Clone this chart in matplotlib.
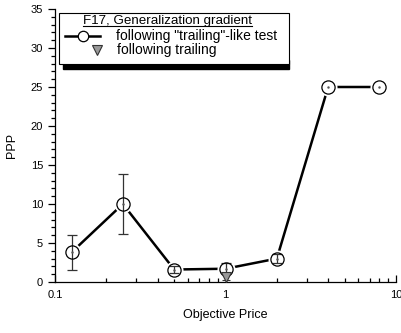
import numpy as np
import matplotlib
matplotlib.use('Agg')
import matplotlib.pyplot as plt
from matplotlib.lines import Line2D
from matplotlib.patches import Rectangle
from matplotlib.ticker import FixedLocator, NullFormatter

plt.rcParams['font.family'] = ['Liberation Sans', 'DejaVu Sans']

# data
price = [0.125, 0.25, 0.5, 1, 2, 4, 8]
ppp = [3.8, 10.0, 1.6, 1.7, 3.0, 25.0, 25.0]
ppp_err = [2.25, 3.8, 0.5, 0.7, 0.55, np.nan, np.nan]

trail_price = [1]
trail_ppp = [0.6]
trail_err = [0.3]

W, H = 401, 333
fig = plt.figure(figsize=(W / 100, H / 100), dpi=100)
ax = fig.add_axes([55 / W, 1 - 282 / H, (396 - 55) / W, (282 - 9) / H])

def px(x, y):
    # pixel position -> figure fraction
    return x / W, 1 - y / H

# line with gaps around the markers
ax.plot(price, ppp, color='black', lw=1.8, zorder=1)
ax.plot(price, ppp, ls='none', marker='o', ms=13, mfc='white', mec='none', zorder=2)
ax.errorbar(price, ppp, yerr=ppp_err, fmt='none', ecolor='#333333', elinewidth=0.9,
            capsize=3.5, capthick=0.9, zorder=3)
ax.plot(price, ppp, ls='none', marker='o', ms=9.5, mfc='none', mec='black', mew=0.9, zorder=4)
ax.plot(price, ppp, ls='none', marker='.', ms=1.5, color='#555555', zorder=4)
ax.errorbar(trail_price, trail_ppp, yerr=trail_err, fmt='v', ms=6.5, mfc='#999999', mec='#333333',
            mew=0.8, ecolor='#333333', elinewidth=0.9, capsize=3, zorder=5)

ax.set_xscale('log')
ax.set_xlim(0.1, 10)
ax.set_ylim(0, 35)
ax.set_xticks([0.1, 1, 10])
ax.set_xticklabels(['0.1', '1', '10'])
ax.xaxis.set_minor_locator(FixedLocator([m * d for d in (0.1, 1) for m in range(2, 10)]))
ax.xaxis.set_minor_formatter(NullFormatter())
ax.set_yticks(range(0, 36, 5))
ax.yaxis.set_minor_locator(FixedLocator(range(0, 36)))

for s in ('top', 'right'):
    ax.spines[s].set_visible(False)
for s in ('left', 'bottom'):
    ax.spines[s].set_linewidth(0.9)

ax.tick_params(axis='x', which='both', direction='in', labelsize=8, pad=6, width=0.9)
ax.tick_params(axis='x', which='major', length=5)
ax.tick_params(axis='x', which='minor', length=3)
ax.tick_params(axis='y', which='both', direction='out', labelsize=8, width=0.9)
ax.tick_params(axis='y', which='major', length=5)
ax.tick_params(axis='y', which='minor', length=3)

ax.set_xlabel('Objective Price', fontsize=9, labelpad=6)
ax.set_ylabel('PPP', fontsize=9, labelpad=9)

# legend box drawn by hand (Origin style with shadow below)
x0, y0 = px(63, 69)
x1, y1 = px(289, 60)
fig.add_artist(Rectangle((x0, y0), x1 - x0, y1 - y0, transform=fig.transFigure,
                         facecolor='black', edgecolor='black', zorder=9))
x0, y0 = px(59, 64)
x1, y1 = px(289, 13)
fig.add_artist(Rectangle((x0, y0), x1 - x0, y1 - y0, transform=fig.transFigure,
                         facecolor='white', edgecolor='black', lw=0.8, zorder=10))

tx, ty = px(83, 21)
title = fig.text(tx, ty, 'F17, Generalization gradient', fontsize=9.6, va='center', zorder=11)
fig.canvas.draw()
bb = title.get_window_extent().transformed(fig.transFigure.inverted())
fig.add_artist(Line2D([bb.x0, bb.x1], [bb.y0 + 0.002, bb.y0 + 0.002], transform=fig.transFigure,
                      color='black', lw=0.8, zorder=11))

lx0, ly = px(65, 36)
lx1, _ = px(100, 36)
mx, _ = px(82.5, 36)
fig.add_artist(Line2D([lx0, lx1], [ly, ly], transform=fig.transFigure, color='black', lw=1.8, zorder=11))
fig.add_artist(Line2D([mx], [ly], transform=fig.transFigure, marker='o', ms=7.5, mfc='white',
                      mec='black', mew=0.9, zorder=12))
fig.text(px(116, 36)[0], ly, 'following "trailing"-like test', fontsize=10, va='center', zorder=11)

tx2, ty2 = px(97, 50)
fig.add_artist(Line2D([tx2], [ty2], transform=fig.transFigure, marker='v', ms=7, mfc='#999999',
                      mec='#333333', mew=0.8, zorder=12))
fig.text(px(117, 50)[0], ty2, 'following trailing', fontsize=10, va='center', zorder=11)

fig.savefig('out.png', dpi=100)
